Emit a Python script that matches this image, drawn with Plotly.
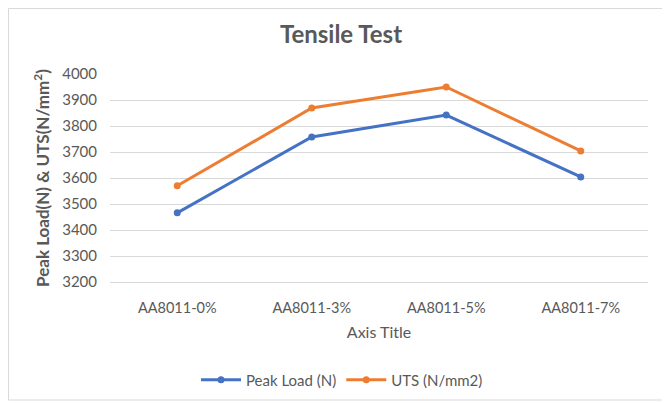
import plotly.graph_objects as go

categories = ["AA8011-0%", "AA8011-3%", "AA8011-5%", "AA8011-7%"]
peak_load = [3466, 3758, 3842, 3604]
uts = [3570, 3869, 3950, 3704]
y_ticks = [3200, 3300, 3400, 3500, 3600, 3700, 3800, 3900, 4000]

FONT = "Lato, 'Open Sans', sans-serif"
GREY = "#595959"

# the page body adds an 8px offset; the figure is sized to fill the rest
W, H = 662, 395
L, R, T = 102, 22, 66
PW = W - L - R          # 538
PH = 208
B = H - T - PH

fig = go.Figure()
fig.add_trace(go.Scatter(x=categories, y=peak_load, name="Peak Load (N)",
                         mode="lines+markers",
                         line=dict(color="#4472C4", width=3),
                         marker=dict(color="#4472C4", size=7)))
fig.add_trace(go.Scatter(x=categories, y=uts, name="UTS (N/mm2)",
                         mode="lines+markers",
                         line=dict(color="#ED7D31", width=3),
                         marker=dict(color="#ED7D31", size=7)))

fig.update_layout(
    width=W, height=H,
    margin=dict(l=L, r=R, t=T, b=B, autoexpand=False),
    paper_bgcolor="white", plot_bgcolor="white",
    font=dict(family=FONT, color=GREY, size=14),
    title=dict(text="<b>Tensile Test</b>", x=(341 - 8) / W, xanchor="center",
               y=1 - 27 / H, yanchor="middle", yref="container",
               font=dict(size=24, color=GREY, family=FONT)),
    showlegend=True,
    legend=dict(orientation="h", x=(342 - 8 - L) / PW, xanchor="center",
                y=(T + PH - 372) / PH, yanchor="middle",
                font=dict(size=15, color=GREY), itemwidth=40,
                tracegroupgap=0),
    xaxis=dict(type="category", range=[-0.5, 3.5], showgrid=False,
               showline=True, linecolor="#d9d9d9", linewidth=1,
               ticks="", ticklabelstandoff=13,
               tickfont=dict(size=14.5, color=GREY),
               title=dict(text="Axis Title", font=dict(size=16, color=GREY), standoff=11)),
    yaxis=dict(range=[3200, 4000], tickvals=y_ticks, showgrid=True,
               gridcolor="#d9d9d9", gridwidth=1, zeroline=False,
               showline=False, ticks="", ticklabelstandoff=12,
               tickfont=dict(size=15, color=GREY),
               title=dict(text="<b>Peak Load(N) &amp; UTS(N/mm<sup>2</sup>)</b>",
                          font=dict(size=17, color=GREY), standoff=8)),
)

fig.add_shape(type="rect", xref="paper", yref="paper",
              x0=(0.5 - L) / PW, x1=(659 - L) / PW,
              y0=(T + PH - 392) / PH, y1=(T + PH - 0.5) / PH,
              line=dict(color="#d9d9d9", width=1), fillcolor="rgba(0,0,0,0)",
              layer="below")

fig.write_html("out.html")
